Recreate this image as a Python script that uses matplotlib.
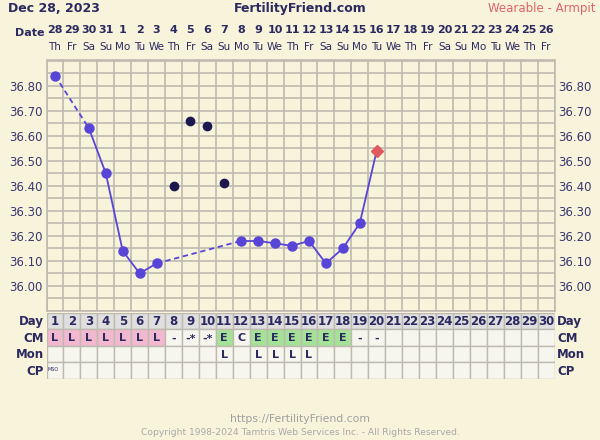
import matplotlib.pyplot as plt
import matplotlib.transforms as mtransforms
import numpy as np

# chart data
dates = ['28', '29', '30', '31', '1', '2', '3', '4', '5', '6', '7', '8', '9', '10', '11',
         '12', '13', '14', '15', '16', '17', '18', '19', '20', '21', '22', '23', '24', '25', '26']
weekdays = ['Th', 'Fr', 'Sa', 'Su', 'Mo', 'Tu', 'We'] * 4 + ['Th', 'Fr']
cycle_days = list(range(1, 31))

temp_days = [1, 3, 4, 5, 6, 7, 12, 13, 14, 15, 16, 17, 18, 19]
temps = [36.84, 36.63, 36.45, 36.14, 36.05, 36.09, 36.18, 36.18, 36.17, 36.16, 36.18, 36.09, 36.15, 36.25]
last_day = 20
last_temp = 36.54
discard_days = [8, 9, 10, 11]
discard_temps = [36.40, 36.66, 36.64, 36.41]

cm = ['L', 'L', 'L', 'L', 'L', 'L', 'L', '-', '-*', '-*', 'E', 'C', 'E', 'E', 'E', 'E', 'E', 'E', '-', '-'] + [''] * 10
mon = [''] * 10 + ['L', '', 'L', 'L', 'L', 'L'] + [''] * 14
cp = ['MSO'] + [''] * 29

bg = '#f8f4dc'
navy = '#2b2960'
gridc = '#bfbab0'
line_c = '#5844d6'

fig = plt.figure(figsize=(6, 4.4), dpi=100, facecolor=bg)
W, H = 600, 440

# temperature grid
ax = fig.add_axes([46.5 / W, 1 - 311 / H, 508 / W, 250.5 / H], facecolor=bg)
ax.set_xlim(0.5, 30.5)
ax.set_ylim(35.90, 36.90)
ax.set_xticks(np.arange(0.5, 30.6, 1), minor=True)
ax.set_xticks([])
ax.set_yticks(np.arange(35.90, 36.91, 0.05), minor=True)
ax.set_yticks(np.arange(36.0, 36.81, 0.1))
ax.set_yticklabels(['%.2f' % v for v in np.arange(36.0, 36.81, 0.1)])
ax.tick_params(axis='y', which='both', length=0, pad=2.5, labelsize=8.5, labelcolor='#3a3770',
               labelleft=True, labelright=True)
ax.tick_params(axis='x', which='both', length=0)
ax.grid(True, which='both', color=gridc, linewidth=1.2)
for s in ax.spines.values():
    s.set_color(gridc)
    s.set_linewidth(1.2)
ax.set_axisbelow(True)

# connect the temps, dashed across missing days
all_d = temp_days + [last_day]
all_t = temps + [last_temp]
for i in range(len(all_d) - 1):
    ls = '-' if all_d[i + 1] - all_d[i] == 1 else (0, (3, 2))
    ax.plot(all_d[i:i + 2], all_t[i:i + 2], color=line_c, linewidth=1.3, linestyle=ls, zorder=3)
ax.plot(temp_days, temps, 'o', color=line_c, markersize=6.5, zorder=4)
ax.plot([last_day], [last_temp], 'D', color='#e05860', markersize=6, zorder=4)
ax.plot(discard_days, discard_temps, 'o', color='#1c1850', markersize=6, zorder=4)

# header
trans = mtransforms.blended_transform_factory(ax.transData, fig.transFigure)
for d, lab, wd in zip(cycle_days, dates, weekdays):
    ax.text(d, 1 - 30 / H, lab, transform=trans, ha='center', va='center',
            fontsize=8, fontweight='bold', color=navy)
    ax.text(d, 1 - 46.5 / H, wd, transform=trans, ha='center', va='center',
            fontsize=7.5, color=navy)
fig.text(44 / W, 1 - 33 / H, 'Date', ha='right', va='center', fontsize=8, fontweight='bold', color=navy)
fig.text(8 / W, 1 - 8.5 / H, 'Dec 28, 2023', ha='left', va='center', fontsize=9, fontweight='bold', color=navy)
fig.text(300 / W, 1 - 8.5 / H, 'FertilityFriend.com', ha='center', va='center', fontsize=9,
         fontweight='bold', color=navy)
fig.text(596 / W, 1 - 8.5 / H, 'Wearable - Armpit', ha='right', va='center', fontsize=8.5, color='#e06468')

# chart table below
tx = fig.add_axes([46.5 / W, 1 - 379 / H, 508 / W, 66.5 / H])
tx.set_xlim(0.5, 30.5)
tx.set_ylim(4, 0)
tx.axis('off')
cm_col = {'L': '#f2b8cf', 'E': '#a4e298'}
tx.bar(cycle_days, 1, bottom=0, width=1, color='#dfdfe0', edgecolor=gridc, linewidth=1)
tx.bar(cycle_days, 1, bottom=1, width=1, color=[cm_col.get(c, '#f6f6ef') for c in cm],
       edgecolor=gridc, linewidth=1)
tx.bar(cycle_days, 1, bottom=2, width=1, color='#f6f6ef', edgecolor=gridc, linewidth=1)
tx.bar(cycle_days, 1, bottom=3, width=1, color='#f6f6ef', edgecolor=gridc, linewidth=1)
for d in cycle_days:
    tx.text(d, 0.55, str(d), ha='center', va='center', fontsize=8.5, fontweight='bold', color=navy)
    tx.text(d, 1.55, cm[d - 1], ha='center', va='center', fontsize=8, fontweight='bold', color=navy)
    tx.text(d, 2.55, mon[d - 1], ha='center', va='center', fontsize=8, fontweight='bold', color=navy)
    if cp[d - 1]:
        tx.text(d - 0.45, 3.4, cp[d - 1], ha='left', va='center', fontsize=3.5, color=navy)

row_labels = ['Day', 'CM', 'Mon', 'CP']
ltrans = mtransforms.blended_transform_factory(fig.transFigure, tx.transData)
for i, r in enumerate(row_labels):
    tx.text(44 / W, i + 0.55, r, transform=ltrans, ha='right', va='center', fontsize=8.5,
            fontweight='bold', color=navy)
    tx.text(557 / W, i + 0.55, r, transform=ltrans, ha='left', va='center', fontsize=8.5,
            fontweight='bold', color=navy)

# footer
fig.text(0.5, 1 - 419 / H, 'https://FertilityFriend.com', ha='center', va='center', fontsize=7.8, color='#a0a0a0')
fig.text(0.5, 1 - 432 / H, 'Copyright 1998-2024 Tamtris Web Services Inc. - All Rights Reserved.',
         ha='center', va='center', fontsize=6.6, color='#a8a8a8')

fig.savefig('out.png', dpi=100, facecolor=bg)
